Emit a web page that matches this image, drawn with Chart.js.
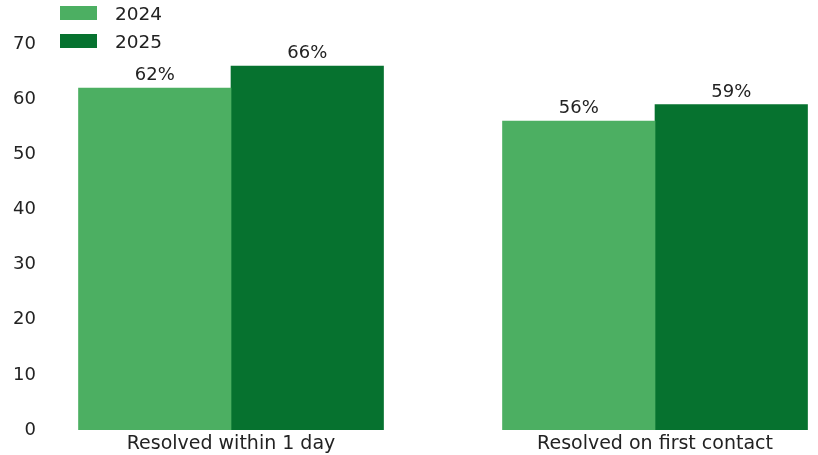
<!DOCTYPE html>
<html lang="en">
<head>
    <meta charset="UTF-8">
    <title>Resolution rates 2024 vs 2025</title>
    <script src="https://cdn.jsdelivr.net/npm/chart.js"></script>
</head>
<body style="margin:0;background:#fff;overflow:hidden;">
    <div style="position:relative;width:818px;height:455px;">
        <canvas id="chart" width="818" height="455"></canvas>
        <div id="legend" style="position:absolute;left:60px;top:-1px;font-family:'DejaVu Sans',sans-serif;font-size:18.5px;color:#222;"></div>
    </div>
    <script>
        // data
        const categories = ['Resolved within 1 day', 'Resolved on first contact'];
        const seriesNames = ['2024', '2025'];
        const values2024 = [62, 56];
        const values2025 = [66, 59];
        const yTicks = [0, 10, 20, 30, 40, 50, 60, 70];

        const colors = ['#4caf62', '#06722f'];
        const font = "'DejaVu Sans', sans-serif";

        const toPoints = arr => arr.map((v, i) => ({ x: i, y: v }));

        // value labels above every bar
        const barLabels = {
            id: 'barLabels',
            afterDatasetsDraw(chart) {
                const ctx = chart.ctx;
                ctx.save();
                ctx.font = '18px ' + font;
                ctx.fillStyle = '#222';
                ctx.textAlign = 'center';
                ctx.textBaseline = 'alphabetic';
                chart.data.datasets.forEach((ds, di) => {
                    chart.getDatasetMeta(di).data.forEach((bar, i) => {
                        ctx.fillText(ds.data[i].y + '%', bar.x, bar.y - 8);
                    });
                });
                ctx.restore();
            }
        };

        const chart = new Chart(document.getElementById('chart'), {
            type: 'bar',
            data: {
                datasets: [
                    { label: seriesNames[0], data: toPoints(values2024), backgroundColor: colors[0], borderWidth: 0, barThickness: 152.5 },
                    { label: seriesNames[1], data: toPoints(values2025), backgroundColor: colors[1], borderWidth: 0, barThickness: 152.5 }
                ]
            },
            options: {
                responsive: false,
                animation: false,
                layout: { padding: { top: 44, left: 0, right: 0, bottom: 0 } },
                plugins: { legend: { display: false }, tooltip: { enabled: false } },
                scales: {
                    x: {
                        type: 'linear',
                        offset: false,
                        bounds: 'data',
                        min: -0.4387,
                        max: 1.3844,
                        grid: { display: false, drawTicks: false, offset: false },
                        border: { display: false },
                        afterBuildTicks: axis => { axis.ticks = categories.map((_, i) => ({ value: i })); },
                        afterFit: axis => { axis.height = 25; },
                        ticks: {
                            autoSkip: false,
                            maxRotation: 0,
                            padding: 3,
                            color: '#222',
                            font: { family: font, size: 19 },
                            callback: v => categories[v]
                        }
                    },
                    y: {
                        min: 0,
                        max: 70,
                        grid: { display: false, drawTicks: false },
                        border: { display: false },
                        afterBuildTicks: axis => { axis.ticks = yTicks.map(v => ({ value: v })); },
                        afterFit: axis => { axis.width = 45; },
                        ticks: {
                            padding: 9,
                            color: '#222',
                            font: { family: font, size: 18 }
                        }
                    }
                }
            },
            plugins: [barLabels]
        });

        // vertical legend, matplotlib style
        const legend = document.getElementById('legend');
        chart.data.datasets.forEach(ds => {
            const row = document.createElement('div');
            row.style.cssText = 'display:flex;align-items:center;height:28px;';
            row.innerHTML = `<span style="display:inline-block;width:37px;height:14px;background:${ds.backgroundColor};margin-right:18px;"></span><span>${ds.label}</span>`;
            legend.appendChild(row);
        });
    </script>
</body>
</html>
